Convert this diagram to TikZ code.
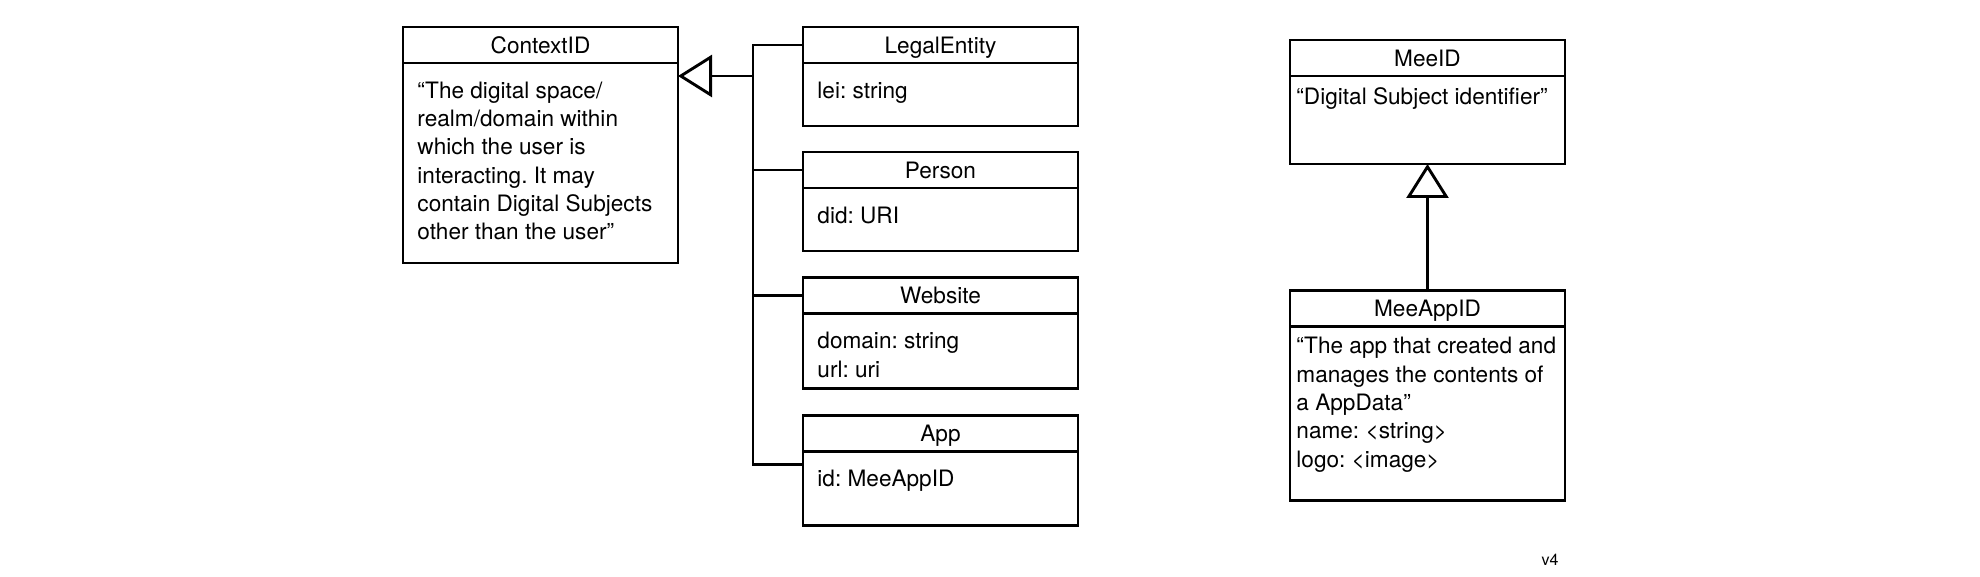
\documentclass[tikz,border=0pt]{standalone}
\usepackage{fontspec}
\setmainfont{TeX Gyre Heros}
\usetikzlibrary{positioning}
\usetikzlibrary{arrows.meta}
\frenchspacing

\begin{document}
\begin{tikzpicture}[x=0.5pt,y=-0.5pt,line width=1.45pt,
  font=\fontsize{11.3}{14.15}\selectfont,
  head/.style={draw,outer sep=0pt,inner sep=0pt,minimum width=137.5pt,minimum height=18pt,text height=8.1pt,text depth=0pt},
  body/.style={draw,outer sep=0pt,inner sep=0pt,minimum width=137.5pt},
  note/.style={anchor=north west,inner sep=0pt,align=left},
  inherit/.style={-{Triangle[open,length=17pt,width=21pt]}}]
\useasboundingbox (0,0) rectangle (1980,577);

%ContextID and the classes below it
\node[head] (ctx) at (540.5,45) {ContextID};
\node[body,minimum height=100pt,below=0pt of ctx] (ctxb) {};
\node[note] (ctxt) at ([shift={(6.5pt,-8.7pt)}]ctxb.north west) {“The digital space/\\realm/domain within\\which the user is\\interacting. It may\\contain Digital Subjects\\other than the user”};

\node[head] (le) at (940.5,45) {LegalEntity};
\node[body,minimum height=31.5pt,below=0pt of le] (leb) {};
\node[note] (let) at ([shift={(6.5pt,-8.7pt)}]leb.north west) {lei: string};

\node[head] (ps) at (940.5,170) {Person};
\node[body,minimum height=31.5pt,below=0pt of ps] (psb) {};
\node[note] (pst) at ([shift={(6.5pt,-8.7pt)}]psb.north west) {did: URI};

\node[head] (ws) at (940.5,295.5) {Website};
\node[body,minimum height=37.5pt,below=0pt of ws] (wsb) {};
\node[note] (wst) at ([shift={(6.5pt,-8.7pt)}]wsb.north west) {domain: string\\url: uri};

\node[head] (app) at (940.5,433.5) {App};
\node[body,minimum height=37pt,below=0pt of app] (appb) {};
\node[note] (appt) at ([shift={(6.5pt,-8.7pt)}]appb.north west) {id: MeeAppID};

\coordinate (fork) at (753,76);
\draw (le.west) -| (fork);
\draw (ps.west) -| (fork);
\draw (ws.west) -| (fork);
\draw ([yshift=-6.5pt]appb.north west) -| (fork);
\draw[inherit] (fork) -- (fork -| ctxb.east);

%MeeID
\node[head] (mee) at (1427.5,58) {MeeID};
\node[body,minimum height=44pt,below=0pt of mee] (meeb) {};
\node[note] (meet) at ([shift={(2.5pt,-5.2pt)}]meeb.north west) {“Digital Subject identifier”};

\node[head] (ma) at (1427.5,308.5) {MeeAppID};
\node[body,minimum height=87pt,below=0pt of ma] (mab) {};
\node[note] (mat) at ([shift={(2.5pt,-4.7pt)}]mab.north west) {“The app that created and\\manages the contents of\\a AppData”\\name: <string>\\logo: <image>};

\draw[inherit] (ma.north) -- (meeb.south);

\node[font=\fontsize{8}{10}\selectfont] (ver) at (1550,560) {v4};
\end{tikzpicture}
\end{document}
